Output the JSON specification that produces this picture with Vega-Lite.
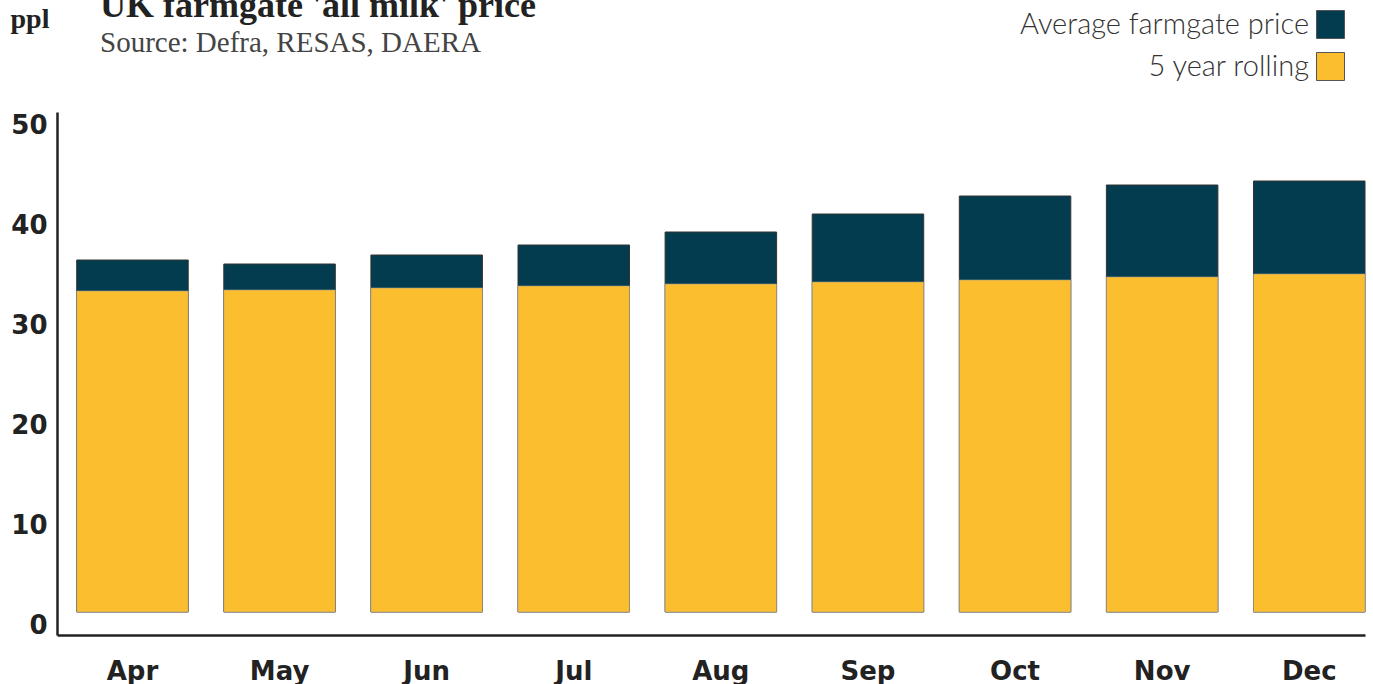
{
  "$schema": "https://vega.github.io/schema/vega-lite/v6.json",
  "width": 1308,
  "height": 523,
  "autosize": "none",
  "padding": {"left": 57, "top": 112, "right": 8, "bottom": 49},
  "background": "white",
  "view": {"stroke": null},
  "title": {
    "text": "UK farmgate 'all milk' price",
    "subtitle": "Source: Defra, RESAS, DAERA",
    "anchor": "start",
    "frame": "group",
    "font": "Liberation Serif",
    "fontSize": 36,
    "fontWeight": "bold",
    "color": "#222222",
    "subtitleFont": "Liberation Serif",
    "subtitleFontSize": 29,
    "subtitleColor": "#444444",
    "subtitlePadding": 4,
    "dx": 43,
    "dy": 54,
    "offset": 0
  },
  "data": {
    "values": [
      {"month": "Apr", "series": "Average farmgate price", "value": 35.2},
      {"month": "May", "series": "Average farmgate price", "value": 34.8},
      {"month": "Jun", "series": "Average farmgate price", "value": 35.7},
      {"month": "Jul", "series": "Average farmgate price", "value": 36.7},
      {"month": "Aug", "series": "Average farmgate price", "value": 38.0},
      {"month": "Sep", "series": "Average farmgate price", "value": 39.8},
      {"month": "Oct", "series": "Average farmgate price", "value": 41.6},
      {"month": "Nov", "series": "Average farmgate price", "value": 42.7},
      {"month": "Dec", "series": "Average farmgate price", "value": 43.1},
      {"month": "Apr", "series": "5 year rolling", "value": 32.1},
      {"month": "May", "series": "5 year rolling", "value": 32.2},
      {"month": "Jun", "series": "5 year rolling", "value": 32.4},
      {"month": "Jul", "series": "5 year rolling", "value": 32.6},
      {"month": "Aug", "series": "5 year rolling", "value": 32.8},
      {"month": "Sep", "series": "5 year rolling", "value": 33.0},
      {"month": "Oct", "series": "5 year rolling", "value": 33.2},
      {"month": "Nov", "series": "5 year rolling", "value": 33.5},
      {"month": "Dec", "series": "5 year rolling", "value": 33.8}
    ]
  },
  "encoding": {
    "x": {
      "field": "month",
      "type": "nominal",
      "sort": ["Apr", "May", "Jun", "Jul", "Aug", "Sep", "Oct", "Nov", "Dec"],
      "scale": {"paddingInner": 0.242, "paddingOuter": 0.067, "align": 1},
      "axis": {
        "title": null,
        "labelAngle": 0,
        "ticks": false,
        "domainColor": "#222222",
        "domainWidth": 2.5,
        "labelFont": "DejaVu Sans",
        "labelFontWeight": "bold",
        "labelFontSize": 26,
        "labelColor": "#222222",
        "labelPadding": 23
      }
    },
    "y": {
      "field": "value",
      "type": "quantitative",
      "scale": {"domain": [-2.3, 50], "nice": false, "zero": false},
      "axis": {
        "values": [0, 10, 20, 30, 40, 50],
        "grid": false,
        "ticks": false,
        "domainColor": "#222222",
        "domainWidth": 2.5,
        "labelFont": "DejaVu Sans",
        "labelFontWeight": "bold",
        "labelFontSize": 26,
        "labelColor": "#222222",
        "labelBaseline": "top",
        "labelPadding": 10,
        "labelOverlap": false,
        "title": "ppl",
        "titleAngle": 0,
        "titleX": -47,
        "titleY": -85,
        "titleAlign": "left",
        "titleBaseline": "alphabetic",
        "titleFont": "Liberation Serif",
        "titleFontSize": 28,
        "titleFontWeight": "bold",
        "titleColor": "#222222"
      }
    },
    "y2": {"datum": 0},
    "color": {
      "field": "series",
      "type": "nominal",
      "scale": {"domain": ["Average farmgate price", "5 year rolling"], "range": ["#043C4F", "#FBBE2E"]},
      "legend": {
        "orient": "none",
        "legendX": 1259,
        "legendY": -102,
        "title": null,
        "padding": 0,
        "symbolType": "square",
        "symbolSize": 784,
        "symbolStrokeColor": "#555555",
        "symbolStrokeWidth": 1,
        "symbolOpacity": 1,
        "labelAlign": "right",
        "labelOffset": -36,
        "labelFont": "Lato",
        "labelFontWeight": 300,
        "labelFontSize": 29,
        "labelColor": "#333333",
        "labelLimit": 0,
        "rowPadding": 9
      }
    }
  },
  "layer": [
    {
      "transform": [{"filter": "datum.series === 'Average farmgate price'"}],
      "mark": {"type": "bar", "stroke": "#333333", "strokeWidth": 1}
    },
    {
      "transform": [{"filter": "datum.series === '5 year rolling'"}],
      "mark": {"type": "bar", "stroke": "#9a9a9a", "strokeWidth": 0.6}
    }
  ]
}
